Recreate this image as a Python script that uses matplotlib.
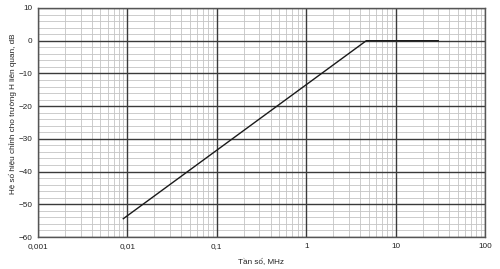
import matplotlib
matplotlib.use("Agg")
import matplotlib.pyplot as plt
from matplotlib.ticker import FixedLocator, LogLocator, MultipleLocator, NullFormatter

plt.rcParams['font.family'] = ['Liberation Sans', 'DejaVu Sans']

freq_mhz = [0.009, 4.7, 30]
corr_db = [-54.4, 0, 0]
xtick_vals = [0.001, 0.01, 0.1, 1, 10, 100]
xtick_labels = ["0,001", "0,01", "0,1", "1", "10", "100"]
ytick_vals = [10, 0, -10, -20, -30, -40, -50, -60]

fig = plt.figure(figsize=(5.0, 2.69), dpi=100)
ax = fig.add_axes([38/500, 1-237/269, (485-38)/500, (237-8)/269])

ax.set_xscale('log')
ax.set_xlim(0.001, 100)
ax.set_ylim(-60, 10)

ax.xaxis.set_major_locator(FixedLocator(xtick_vals))
ax.set_xticklabels(xtick_labels)
ax.xaxis.set_minor_locator(LogLocator(base=10, subs=range(2, 10), numticks=20))
ax.xaxis.set_minor_formatter(NullFormatter())
ax.yaxis.set_major_locator(FixedLocator(ytick_vals))
ax.yaxis.set_minor_locator(MultipleLocator(2))

ax.grid(which='minor', color='#c4c4c4', linewidth=0.6)
ax.set_axisbelow(True)
for xv in xtick_vals:
    ax.axvline(xv, color='#3a3a3a', linewidth=1.0, zorder=1.5)
for yv in ytick_vals:
    ax.axhline(yv, color='#3a3a3a', linewidth=1.0, zorder=1.5)

ax.plot(freq_mhz, corr_db, color='#1a1a1a', linewidth=1.0, zorder=2)

for s in ax.spines.values():
    s.set_color('#555555')
    s.set_linewidth(1.0)
ax.tick_params(which='both', length=0, labelsize=5.9, colors='#222222', pad=4)

ax.set_xlabel("Tần số, MHz", fontsize=5.9, color='#222222', labelpad=7)
ax.set_ylabel("Hệ số hiệu chỉnh cho trường H liên quan, dB", fontsize=5.9,
              color='#222222')
ax.yaxis.set_label_coords(-0.048, 0.54)

fig.savefig("out.png", dpi=100, facecolor='white')
